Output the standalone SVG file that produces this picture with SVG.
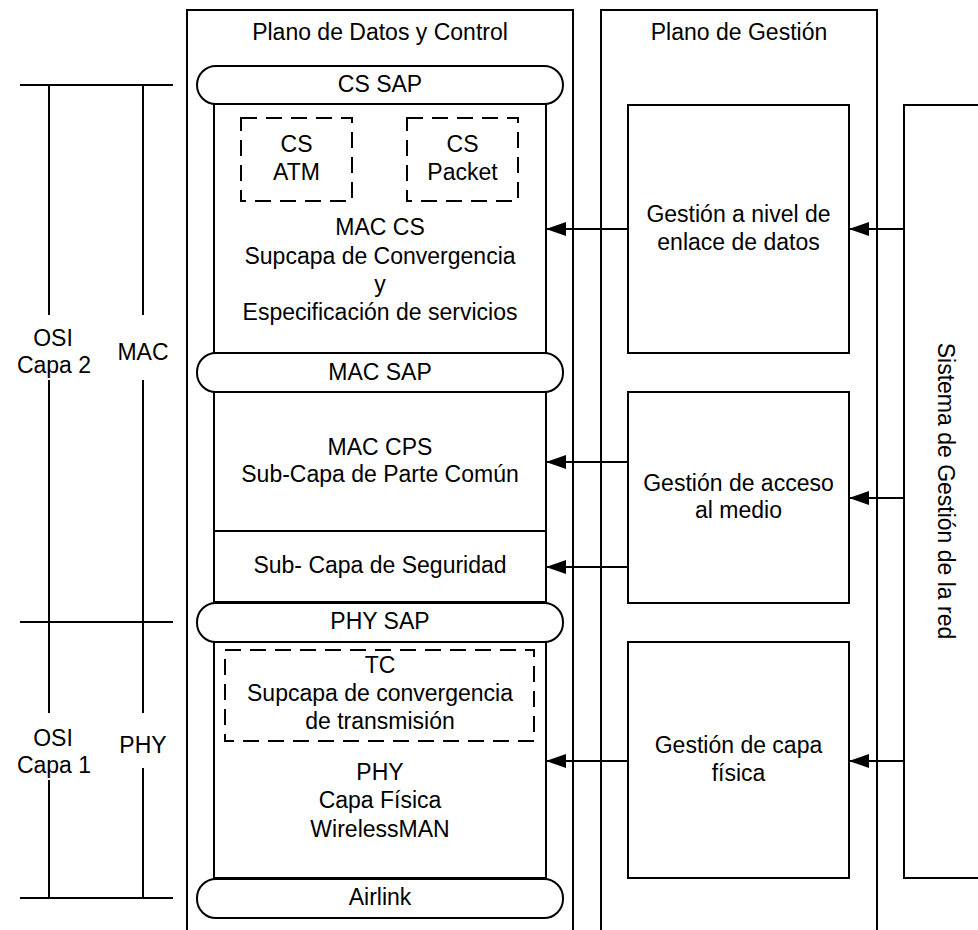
<svg xmlns="http://www.w3.org/2000/svg" width="978" height="930" viewBox="0 0 978 930">
<defs>
<style>
.ln{fill:none;stroke:#000;stroke-width:2}
.bx{fill:#fff;stroke:#000;stroke-width:2}
.ds{fill:none;stroke:#000;stroke-width:2;stroke-dasharray:16 9}
text{font-family:"Liberation Sans",Arial,sans-serif;font-size:23px;fill:#000;text-anchor:middle}
</style>
<marker id="ah" viewBox="0 0 20 14" refX="20" refY="7" markerWidth="20" markerHeight="14" markerUnits="userSpaceOnUse" orient="auto">
<path d="M0,0 L20,7 L0,14 Z" fill="#000"/>
</marker>
</defs>
<rect width="978" height="930" fill="#fff"/>

<g id="osi-scale">
<path class="ln" d="M20,85 H173 M20,622 H173 M20,898 H173"/>
<path class="ln" d="M49,85 V315 M49,380 V713 M49,780 V898"/>
<path class="ln" d="M143,85 V315 M143,380 V713 M143,768 V898"/>
<text x="53" y="346">OSI</text>
<text x="54" y="373">Capa 2</text>
<text x="143" y="360">MAC</text>
<text x="53" y="746">OSI</text>
<text x="54" y="773">Capa 1</text>
<text x="143" y="753">PHY</text>
</g>

<g id="plano-datos">
<path class="ln" d="M187,930 V10 H573 V930"/>
<text x="380" y="40">Plano de Datos y Control</text>
</g>

<g id="plano-gestion">
<path class="ln" d="M601,930 V10 H877 V930"/>
<text x="739" y="40">Plano de Gestión</text>
</g>

<g id="mac-cs">
<rect class="bx" x="214" y="104" width="332" height="249"/>
<text x="380" y="235">MAC CS</text>
<text x="380" y="264">Supcapa de Convergencia</text>
<text x="380" y="292">y</text>
<text x="380" y="320">Especificación de servicios</text>
</g>
<g id="cs-atm">
<rect class="ds" x="241" y="118" width="111" height="83"/>
<text x="296.5" y="152">CS</text>
<text x="296.5" y="180">ATM</text>
</g>
<g id="cs-packet">
<rect class="ds" x="407" y="118" width="111" height="83"/>
<text x="462.5" y="152">CS</text>
<text x="462.5" y="180">Packet</text>
</g>
<g id="cs-sap">
<rect class="bx" x="197" y="66" width="366" height="38" rx="19" ry="19"/>
<text x="380" y="92">CS SAP</text>
</g>

<g id="mac-cps">
<rect class="bx" x="214" y="392" width="332" height="139"/>
<text x="380" y="455">MAC CPS</text>
<text x="380" y="482">Sub-Capa de Parte Común</text>
</g>
<g id="seguridad">
<rect class="bx" x="214" y="531" width="332" height="71"/>
<text x="380" y="573">Sub- Capa de Seguridad</text>
</g>
<g id="mac-sap">
<rect class="bx" x="197" y="353" width="366" height="39" rx="19" ry="19"/>
<text x="380" y="380">MAC SAP</text>
</g>

<g id="phy">
<rect class="bx" x="214" y="641" width="332" height="237"/>
<text x="380" y="780">PHY</text>
<text x="380" y="808">Capa Física</text>
<text x="380" y="837">WirelessMAN</text>
</g>
<g id="tc">
<rect class="ds" x="225" y="650" width="309" height="91"/>
<text x="380" y="673">TC</text>
<text x="380" y="701">Supcapa de convergencia</text>
<text x="380" y="729">de transmisión</text>
</g>
<g id="phy-sap">
<rect class="bx" x="197" y="603" width="366" height="39" rx="19" ry="19"/>
<text x="380" y="629">PHY SAP</text>
</g>
<g id="airlink">
<rect class="bx" x="197" y="879" width="366" height="39" rx="19" ry="19"/>
<text x="380" y="905">Airlink</text>
</g>

<g id="gestion-enlace">
<rect class="bx" x="628" y="105" width="221" height="248"/>
<text x="738.5" y="222">Gestión a nivel de</text>
<text x="738.5" y="250">enlace de datos</text>
</g>
<g id="gestion-acceso">
<rect class="bx" x="628" y="392" width="221" height="211"/>
<text x="738.5" y="491">Gestión de acceso</text>
<text x="738.5" y="518">al medio</text>
</g>
<g id="gestion-fisica">
<rect class="bx" x="628" y="642" width="221" height="236"/>
<text x="738.5" y="753">Gestión de capa</text>
<text x="738.5" y="781">física</text>
</g>

<g id="sistema-gestion">
<rect class="bx" x="904" y="105" width="100" height="773"/>
<text x="938" y="491" transform="rotate(90 938 491)">Sistema de Gestión de la red</text>
</g>

<g id="connectors">
<line class="ln" x1="628" y1="229" x2="546" y2="229" marker-end="url(#ah)"/>
<line class="ln" x1="628" y1="462" x2="546" y2="462" marker-end="url(#ah)"/>
<line class="ln" x1="628" y1="567" x2="546" y2="567" marker-end="url(#ah)"/>
<line class="ln" x1="628" y1="761" x2="546" y2="761" marker-end="url(#ah)"/>
<line class="ln" x1="904" y1="229" x2="849" y2="229" marker-end="url(#ah)"/>
<line class="ln" x1="904" y1="498" x2="849" y2="498" marker-end="url(#ah)"/>
<line class="ln" x1="904" y1="761" x2="849" y2="761" marker-end="url(#ah)"/>
</g>
</svg>
